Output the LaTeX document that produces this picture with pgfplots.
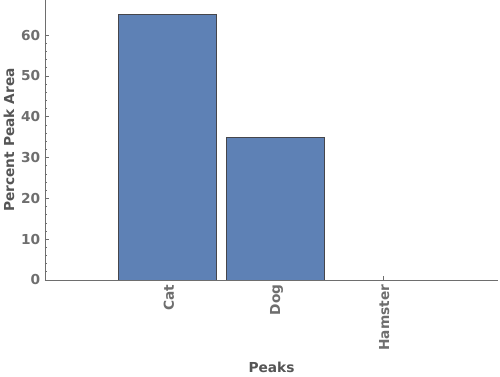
\documentclass[border=0pt]{standalone}
\usepackage{pgfplots}
\pgfplotsset{compat=1.18}
\usepackage{fontspec}
\setmainfont{DejaVu Sans}
\definecolor{barblue}{RGB}{94,129,181}
\definecolor{axgray}{RGB}{110,110,110}
\definecolor{ticktext}{RGB}{110,110,110}
\definecolor{labtext}{RGB}{85,85,85}
\definecolor{baredge}{RGB}{70,70,75}
\begin{document}
\begin{tikzpicture}[x=1pt,y=1pt]
\useasboundingbox (-33.75,-72.75) rectangle (341.25,210);
\begin{axis}[
  at={(0,0)}, anchor=south west, scale only axis,
  width=339.75pt, height=210pt,
  xmin=-0.14, xmax=4.07, ymin=0, ymax=68.6,
  axis lines*=left,
  axis line style={axgray, line width=0.6pt, -},
  ybar, bar width=0.91,
  xtick={1,2,3}, xticklabels={Cat,Dog,Hamster},
  ytick={0,10,20,30,40,50,60},
  minor y tick num=4,
  tick align=inside,
  major tick length=3pt, minor tick length=1.5pt,
  tick style={axgray, line width=0.5pt},
  /pgf/number format/assume math mode=true,
  ticklabel style={font=\fontsize{10.3}{12}\selectfont\bfseries, text=ticktext},
  xticklabel style={rotate=90, anchor=east, yshift=-1pt},
  label style={font=\fontsize{10.3}{12}\selectfont\bfseries, text=labtext},
  xlabel={Peaks},
  xlabel style={at={(axis description cs:0.5,0)}, anchor=center, yshift=-65.25pt},
  ylabel={Percent Peak Area},
  ylabel style={at={(axis description cs:0,0.5)}, anchor=center, yshift=27pt},
]
\addplot[fill=barblue, draw=baredge, line width=0.6pt] coordinates {(1,65) (2,35)};
\end{axis}
\end{tikzpicture}
\end{document}
